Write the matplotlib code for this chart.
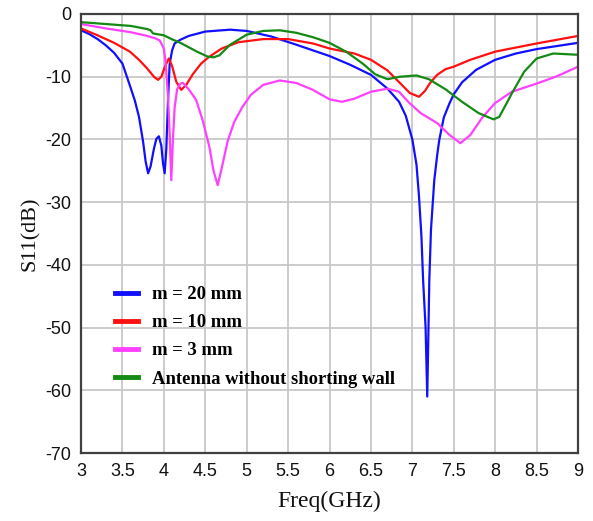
import matplotlib
matplotlib.use("Agg")
import matplotlib.pyplot as plt

plt.rcParams["axes.unicode_minus"] = False

# ---- data ----
f_m20 = [3.0, 3.1, 3.2, 3.3, 3.4, 3.5, 3.59, 3.65, 3.7, 3.75, 3.78, 3.81, 3.84, 3.88, 3.91, 3.94,
         3.97, 3.99, 4.01, 4.03, 4.05, 4.07, 4.1, 4.13, 4.2, 4.3, 4.5, 4.8, 5.0, 5.3,
         5.6, 6.0, 6.25, 6.5, 6.7, 6.84, 6.92, 7.0, 7.05, 7.08, 7.11, 7.13, 7.16, 7.18,
         7.195, 7.205, 7.225, 7.265, 7.3, 7.325, 7.38, 7.45, 7.5, 7.6, 7.77, 8.0, 8.25,
         8.5, 8.75, 9.0]
s_m20 = [-2.6, -3.2, -4.0, -5.0, -6.2, -7.9, -11.4, -13.8, -16.4, -20.4, -23.5, -25.4, -24.3, -21.5, -19.9, -19.5,
         -21.0, -23.8, -25.4, -21.5, -14.0, -8.0, -5.8, -4.7, -4.1, -3.5, -2.8, -2.5, -2.7, -3.6,
         -4.9, -6.7, -8.1, -9.7, -11.9, -14.0, -16.2, -20.0, -24.0, -29.0, -35.5, -42.4, -50.0, -61.0,
         -50.0, -42.4, -34.4, -26.5, -22.5, -20.1, -16.5, -14.2, -12.8, -10.9, -8.9, -7.3, -6.3,
         -5.6, -5.1, -4.6]

f_m10 = [3.0, 3.2, 3.4, 3.59, 3.7, 3.8, 3.88, 3.93, 3.97, 4.01, 4.06, 4.1, 4.15, 4.21, 4.27,
         4.35, 4.45, 4.55, 4.7, 4.9, 5.2, 5.5, 5.8, 6.0, 6.3, 6.5, 6.7, 6.85, 6.97, 7.08,
         7.15, 7.22, 7.3, 7.4, 7.5, 7.7, 8.0, 8.5, 9.0]
s_m10 = [-2.3, -3.4, -4.6, -6.0, -7.3, -8.7, -10.0, -10.5, -10.0, -8.5, -7.1, -8.3, -10.8, -12.1, -11.3,
         -9.6, -7.9, -6.8, -5.5, -4.5, -4.0, -4.0, -4.7, -5.5, -6.3, -7.3, -9.0, -11.0, -12.6, -13.2,
         -12.3, -10.9, -9.7, -8.8, -8.4, -7.3, -6.0, -4.7, -3.5]

f_m3 = [3.0, 3.3, 3.6, 3.8, 3.9, 3.95, 4.0, 4.02, 4.05, 4.07, 4.09, 4.11, 4.13, 4.16, 4.2,
        4.23, 4.3, 4.39, 4.47, 4.55, 4.6, 4.65, 4.7, 4.77, 4.85, 4.95, 5.05, 5.2, 5.4, 5.6,
        5.8, 6.0, 6.15, 6.3, 6.5, 6.7, 6.84, 6.95, 7.1, 7.3, 7.45, 7.58, 7.7, 7.85, 8.0,
        8.2, 8.5, 8.75, 9.0]
s_m3 = [-1.6, -2.3, -2.9, -3.5, -3.9, -4.2, -5.5, -7.5, -13.0, -19.0, -26.5, -20.0, -15.0, -12.0, -11.1,
        -11.0, -12.0, -13.7, -17.0, -21.2, -25.0, -27.3, -24.5, -20.3, -17.2, -14.8, -12.9, -11.3, -10.6, -11.0,
        -12.1, -13.6, -14.0, -13.5, -12.4, -11.9, -12.4, -14.0, -15.8, -17.4, -19.3, -20.6, -19.3, -16.4, -14.2,
        -12.4, -11.1, -9.9, -8.4]

f_nowall = [3.0, 3.3, 3.6, 3.8, 3.84, 3.87, 4.0, 4.11, 4.2, 4.3, 4.4, 4.53, 4.6, 4.67, 4.8,
            5.0, 5.2, 5.4, 5.6, 5.8, 6.0, 6.2, 6.4, 6.55, 6.7, 6.85, 7.05, 7.2, 7.4, 7.6,
            7.8, 7.98, 8.05, 8.2, 8.35, 8.5, 8.7, 9.0]
s_nowall = [-1.3, -1.6, -1.9, -2.4, -2.6, -3.1, -3.4, -4.1, -4.6, -5.3, -6.0, -6.8, -6.9, -6.6, -4.9,
            -3.3, -2.7, -2.6, -3.0, -3.7, -4.6, -6.0, -7.9, -9.6, -10.4, -10.0, -9.8, -10.4, -12.0, -14.0,
            -15.8, -16.8, -16.4, -12.7, -9.2, -7.1, -6.3, -6.5]

labels = ["m = 20 mm", "m = 10 mm", "m = 3 mm", "Antenna without shorting wall"]
colors = ["#1010ff", "#ff1010", "#ff40ff", "#138a13"]
x_ticks = [3, 3.5, 4, 4.5, 5, 5.5, 6, 6.5, 7, 7.5, 8, 8.5, 9]
x_tick_labels = ["3", "3.5", "4", "4.5", "5", "5.5", "6", "6.5", "7", "7.5", "8", "8.5", "9"]
y_ticks = [0, -10, -20, -30, -40, -50, -60, -70]

# ---- figure ----
fig = plt.figure(figsize=(5.93, 5.21), dpi=100)
ax = fig.add_axes([81 / 593, 1 - 453 / 521, 497 / 593, 439 / 521])

series = [(f_m20, s_m20), (f_m10, s_m10), (f_m3, s_m3), (f_nowall, s_nowall)]
for (fx, sy), lab, c in zip(series, labels, colors):
    ax.plot(fx, sy, color=c, lw=1.6, label=lab, solid_joinstyle="round")

ax.set_xlim(3, 9)
ax.set_ylim(-70, 0)
ax.set_xticks(x_ticks)
ax.set_xticklabels(x_tick_labels)
ax.set_yticks(y_ticks)
ax.grid(True, color="#c8c8c8", lw=1.3)
ax.set_axisbelow(True)
for sp in ax.spines.values():
    sp.set_color("#404040")
    sp.set_linewidth(1.6)
ax.tick_params(length=0, pad=7, labelsize=13, labelcolor="#111111")
for t in ax.get_xticklabels() + ax.get_yticklabels():
    t.set_family("Liberation Sans")

ax.set_xlabel("Freq(GHz)", family="Liberation Serif", fontsize=17, labelpad=8, color="#111111")
ax.set_ylabel("S11(dB)", family="Liberation Serif", fontsize=16, labelpad=4, color="#111111")

leg = ax.legend(loc="upper left", bbox_to_anchor=(0.042, 0.41), frameon=False,
                prop={"family": "Liberation Serif", "weight": "bold", "size": 13.4},
                handlelength=1.25, handletextpad=0.75, labelspacing=0.6, borderpad=0.2)
for h in leg.get_lines():
    h.set_linewidth(3.5)

fig.savefig("out.png", dpi=100)
